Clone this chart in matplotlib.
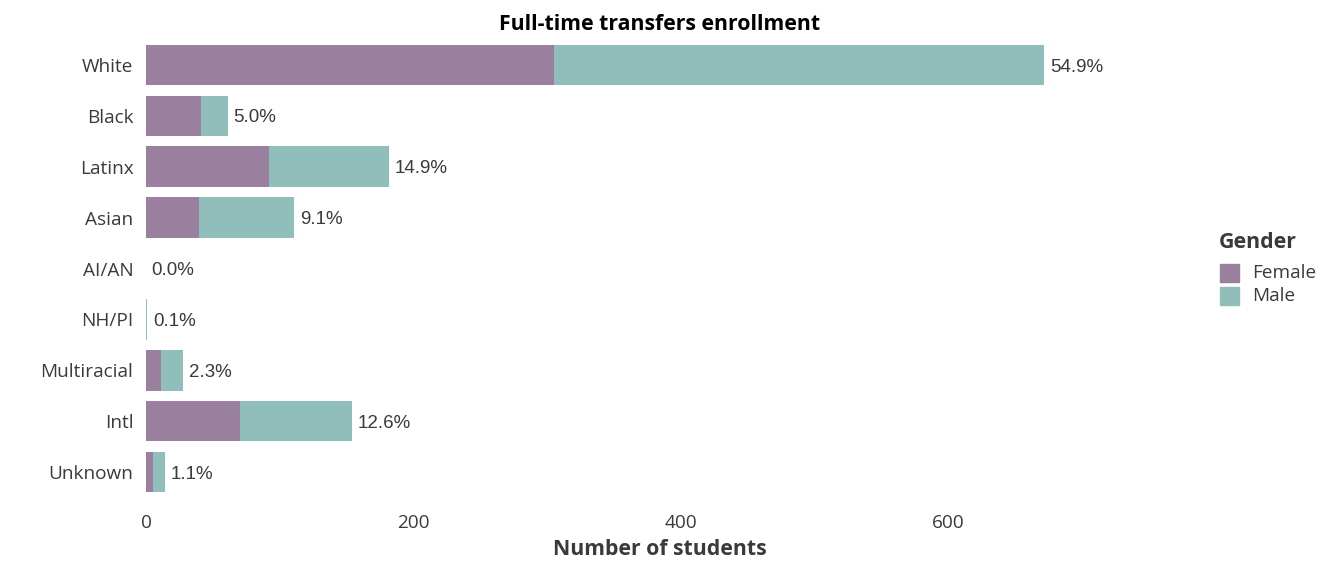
import matplotlib
matplotlib.use("Agg")
import matplotlib.pyplot as plt
from matplotlib.patches import Rectangle

categories = ["White", "Black", "Latinx", "Asian", "AI/AN", "NH/PI", "Multiracial", "Intl", "Unknown"]
female = [305, 41, 92, 40, 0, 0, 11, 70, 5]
male = [367, 20, 90, 71, 0, 1, 17, 84, 9]
xticks = [0, 200, 400, 600]
legend_labels = ["Female", "Male"]

FEMALE_C = "#9A809E"
MALE_C = "#8FBEBB"
TXT = "#3a3a3a"
FONT = "Open Sans"

W, H = 1344, 576
fig = plt.figure(figsize=(W / 100, H / 100), dpi=100)
ax = fig.add_axes([146 / W, 1 - 502.5 / H, (1174 - 146) / W, (502.5 - 34.5) / H])

y = list(range(len(categories)))
totals = [f + m for f, m in zip(female, male)]
grand = sum(totals)

ax.barh(y, female, height=0.8, color=FEMALE_C, label="Female")
ax.barh(y, male, left=female, height=0.8, color=MALE_C, label="Male")

for yi, t in zip(y, totals):
    ax.annotate(f"{100 * t / grand:.1f}%", xy=(t, yi), xytext=(4, -1.5), textcoords="offset points",
                va="center", ha="left", fontsize=13.5, color=TXT, family="Liberation Sans")

ax.set_xlim(0, 769)
ax.set_ylim(len(categories) - 0.4, -0.6)
ax.set_yticks(y)
ax.set_yticklabels(categories, family=FONT, fontsize=13.7, color=TXT)
ax.set_xticks(xticks)
ax.set_xticklabels([str(v) for v in xticks], family=FONT, fontsize=13.7, color=TXT)
ax.tick_params(length=0)
ax.tick_params(axis="y", pad=9)
ax.tick_params(axis="x", pad=8)
for s in ax.spines.values():
    s.set_visible(False)

ax.set_xlabel("Number of students", family=FONT, fontsize=15.3, fontweight="bold", color=TXT, labelpad=5)
ax.set_title("Full-time transfers enrollment", family=FONT, fontsize=15.3, fontweight="bold", color="black", pad=-1)

# legend drawn in figure pixel coordinates
def fx(px):
    return px / W

def fy(py):
    return 1 - py / H

fig.text(fx(1219), fy(243), "Gender", family=FONT, fontsize=15.3, fontweight="bold",
         color=TXT, ha="left", va="center")
key_tops = [264, 286.5]
for top, col, lab in zip(key_tops, [FEMALE_C, MALE_C], legend_labels):
    fig.patches.append(Rectangle((fx(1220), fy(top + 18)), 19 / W, 18 / H,
                                 transform=fig.transFigure, color=col, figure=fig))
    fig.text(fx(1252), fy(top + 9.5), lab, family=FONT, fontsize=13.7, color=TXT,
             ha="left", va="center")

fig.savefig("out.png", dpi=100)
